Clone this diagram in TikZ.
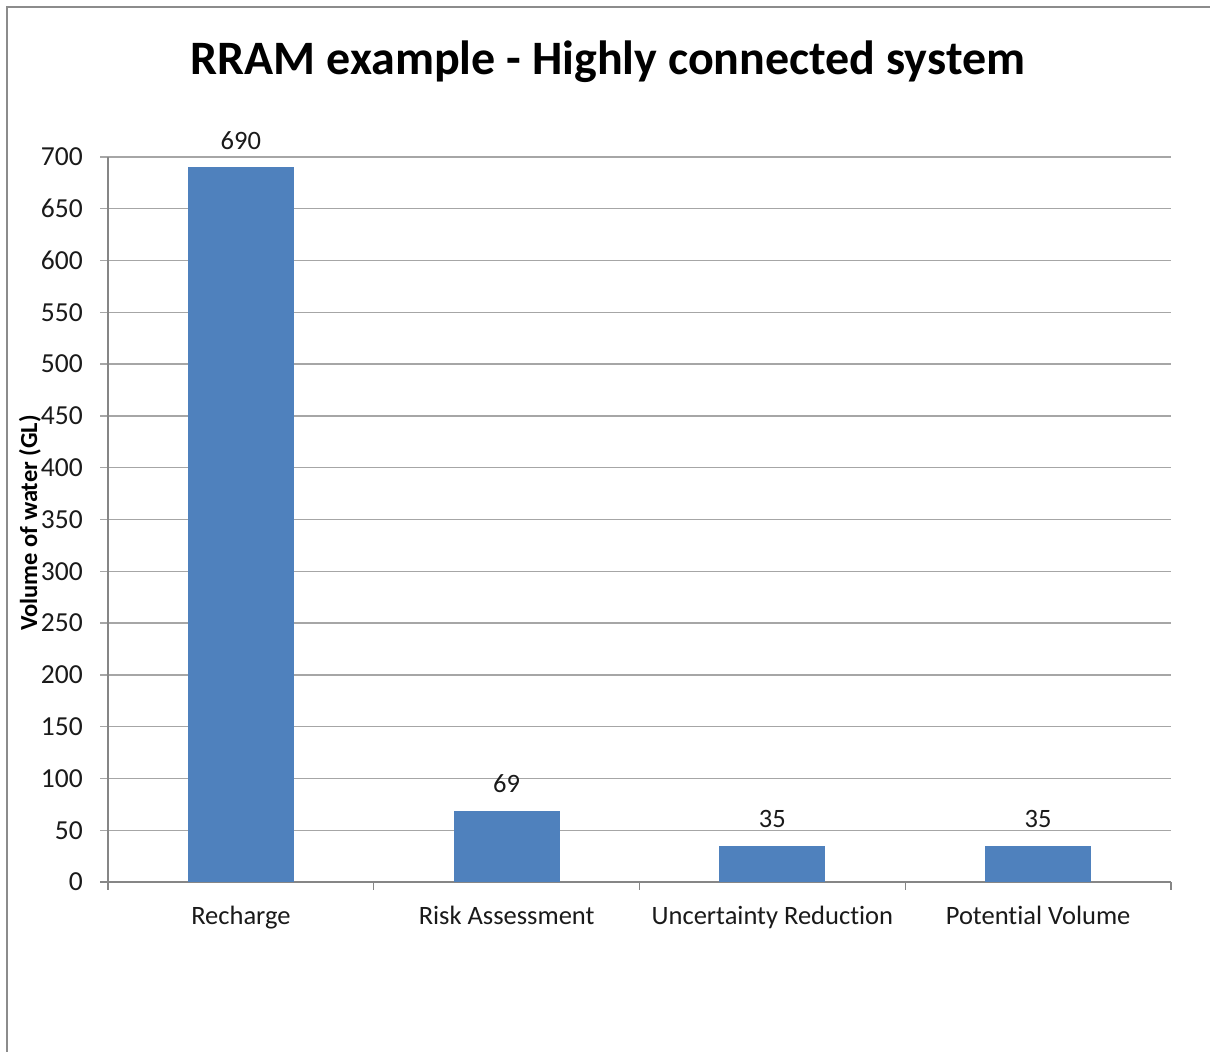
\documentclass[tikz,border=0pt]{standalone}
\usepackage{fontspec}
\setmainfont[Ligatures=NoCommon]{Carlito}
\definecolor{barblue}{HTML}{4F81BD}
\definecolor{gridgray}{HTML}{A6A6A6}
\definecolor{axisgray}{HTML}{868686}
\definecolor{framegray}{HTML}{8C8C8C}
\definecolor{txt}{HTML}{1A1A1A}
\tikzset{
  gridline/.style={draw=gridgray, line width=1.3pt},
  axisline/.style={draw=axisgray, line width=1.3pt},
  bar/.style={fill=barblue, draw=none},
  ticklabel/.style={font=\fontsize{27.5}{31}\selectfont, text=txt, inner sep=0pt},
  datalabel/.style={font=\fontsize{26.5}{30}\selectfont, text=txt, inner sep=0pt},
  cattext/.style={font=\fontsize{26.5}{30}\selectfont, text=txt, inner sep=0pt},
}
\begin{document}
\begin{tikzpicture}[x=1pt,y=-1pt]
\useasboundingbox (0,0) rectangle (1210,1052);
\fill[white] (0,0) rectangle (1210,1052);
% frame
\draw[framegray, line width=2pt] (7,1052) -- (7,7) -- (1210,7);
% title
\node[font=\fontsize{48}{54}\selectfont\bfseries, inner sep=0pt] (title) at (608,62) {RRAM example - Highly connected system};
% gridlines and y tick labels
\foreach \v in {50,100,...,700} {
  \draw[gridline] (100,{882-\v*1.0357143}) -- (1171,{882-\v*1.0357143});
}
\foreach \v in {0,50,100,...,700} {
  \node[ticklabel, anchor=east] (yt\v) at (83,{882-\v*1.0357143}) {\v};
}
% axes
\draw[axisline] (108,157) -- (108,882);
\draw[axisline] (100,882) -- (1171,882);
\foreach \t in {0,1,2,3,4} {
  \draw[axisline] ({108+\t*265.75},882) -- ({108+\t*265.75},890);
}
% axis title
\node[font=\fontsize{24.5}{28}\selectfont\bfseries, rotate=90, inner sep=0pt] (ytitle) at (30,523) {Volume of water (GL)};
% bars
\foreach \i/\v/\name in {1/690/Recharge,2/69/Risk Assessment,3/35/Uncertainty Reduction,4/35/Potential Volume} {
  \fill[bar] ({108+265.75*(\i-0.5)-53},882) rectangle ({108+265.75*(\i-0.5)+53},{882-\v*1.0357143});
  \node[datalabel, anchor=base] (dl\i) at ({108+265.75*(\i-0.5)},{882-\v*1.0357143-18}) {\v};
  \node[cattext, anchor=base] (cat\i) at ({108+265.75*(\i-0.5)},924) {\name};
}
\end{tikzpicture}
\end{document}
